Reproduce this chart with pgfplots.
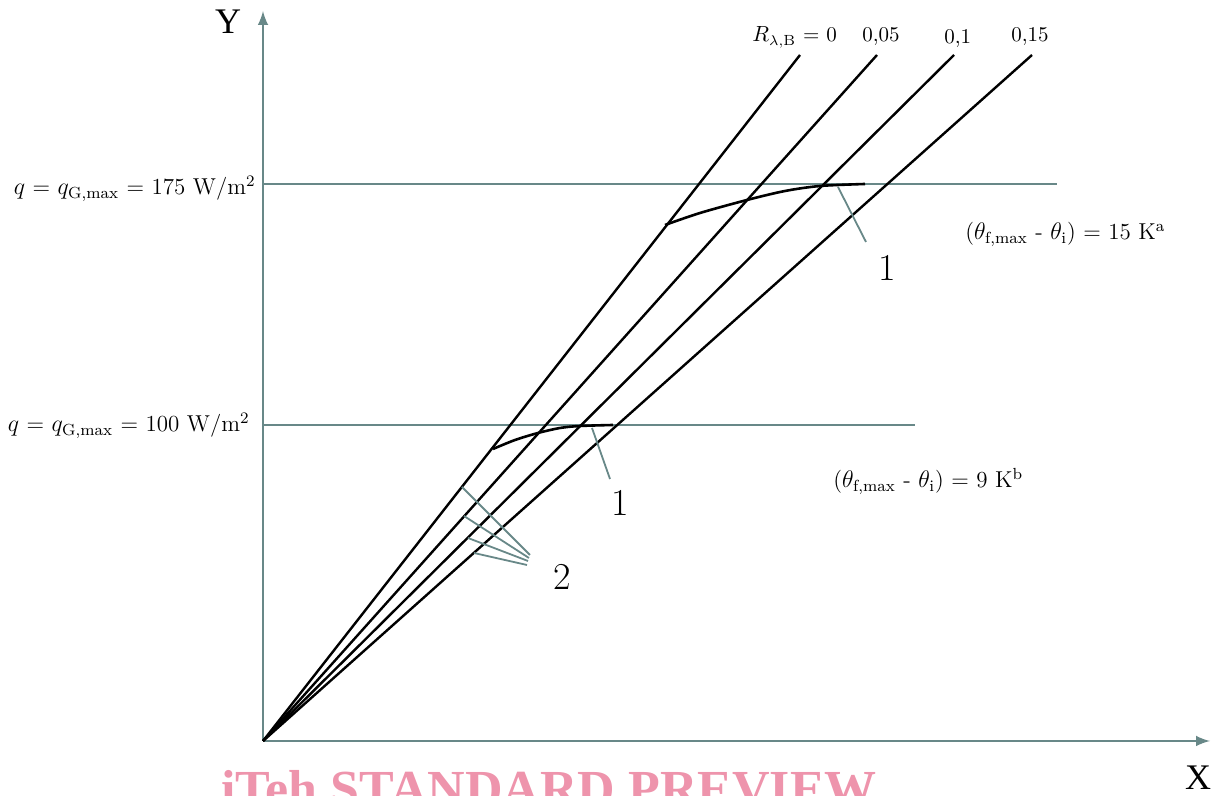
\documentclass[border=0pt]{standalone}
\usepackage{fontspec}
\usepackage{pgfplots}
\pgfplotsset{compat=1.18}
\newfontfamily\tnr{Liberation Serif}
\definecolor{axgray}{RGB}{104,136,136}
\definecolor{wmpink}{RGB}{238,148,172}
\begin{document}
\begin{tikzpicture}
\begin{axis}[
  x=0.5pt, y=0.5pt,
  xmin=-263, xmax=953, ymin=-55, ymax=741,
  hide axis, clip=false,
  every axis plot/.append style={line join=round},
]
% axes and q limits
\addplot[axgray, line width=1.4pt, -latex] coordinates {(0,0) (947,0)};
\addplot[axgray, line width=1.4pt, -latex] coordinates {(0,0) (0,730)};
\addplot[axgray, line width=1.4pt] coordinates {(0,557) (794,557)};
\addplot[axgray, line width=1.4pt] coordinates {(0,316) (652,316)};
% R lines
\addplot[black, line width=1.2pt] coordinates {(0,0) (537,686)};
\addplot[black, line width=1.2pt] coordinates {(0,0) (614,686)};
\addplot[black, line width=1.2pt] coordinates {(0,0) (691,686)};
\addplot[black, line width=1.2pt] coordinates {(0,0) (769,686)};
% curves 1
\addplot[black, line width=1.3pt, smooth] coordinates {(402,516) (437,528) (484,541) (522,550) (557,555) (602,557)};
\addplot[black, line width=1.3pt, smooth] coordinates {(230,292) (252,301) (275,308) (297,313) (317,315) (350,316)};
% leaders
\addplot[axgray, line width=0.9pt] coordinates {(575,554) (603,499)};
\addplot[axgray, line width=0.9pt] coordinates {(329,313) (347,262)};
\addplot[axgray, line width=0.9pt] coordinates {(199,254) (267,186)};
\addplot[axgray, line width=0.9pt] coordinates {(201,225) (266,183)};
\addplot[axgray, line width=0.9pt] coordinates {(205,203) (265,180)};
\addplot[axgray, line width=0.9pt] coordinates {(211,188) (264,176)};
% texts
\node[font=\tnr\fontsize{18}{20}\selectfont] at (axis cs:-35,719) {Y};
\node[font=\tnr\fontsize{18}{20}\selectfont] at (axis cs:935,-37) {X};
\node[font=\fontsize{19}{22}\selectfont] at (axis cs:624,473) {1};
\node[font=\fontsize{19}{22}\selectfont] at (axis cs:357,238) {1};
\node[font=\fontsize{19}{22}\selectfont] at (axis cs:299,164) {2};
\node[anchor=base east, inner sep=0pt, font=\fontsize{11.5}{14}\selectfont] at (axis cs:-7,546) {$q$ = $q_{\mathrm{G,max}}$ = 175 W/m$^2$};
\node[anchor=base east, inner sep=0pt, font=\fontsize{11.5}{14}\selectfont] at (axis cs:-13,309) {$q$ = $q_{\mathrm{G,max}}$ = 100 W/m$^2$};
\node[anchor=base west, inner sep=0pt, font=\fontsize{11.5}{14}\selectfont] at (axis cs:702,501) {($\theta_{\mathrm{f,max}}$ - $\theta_{\mathrm{i}}$) = 15 K$^{\mathrm{a}}$};
\node[anchor=base west, inner sep=0pt, font=\fontsize{11.5}{14}\selectfont] at (axis cs:570,253) {($\theta_{\mathrm{f,max}}$ - $\theta_{\mathrm{i}}$) = 9 K$^{\mathrm{b}}$};
\node[anchor=base west, inner sep=0pt, font=\fontsize{10.5}{13}\selectfont] at (axis cs:489,699) {$R_{\lambda,\mathrm{B}}$ = 0};
\node[anchor=base west, inner sep=0pt, font=\fontsize{10.5}{13}\selectfont] at (axis cs:599,699) {0,05};
\node[anchor=base west, inner sep=0pt, font=\fontsize{10.5}{13}\selectfont] at (axis cs:681,697) {0,1};
\node[anchor=base west, inner sep=0pt, font=\fontsize{10.5}{13}\selectfont] at (axis cs:748,699) {0,15};
\node[anchor=base, inner sep=0pt, text=wmpink, font=\tnr\bfseries\fontsize{26}{30}\selectfont] at (axis cs:286,-66) {iTeh STANDARD PREVIEW};
\coordinate (sw) at (axis cs:-263,-55);
\coordinate (ne) at (axis cs:953,741);
\end{axis}
\pgfresetboundingbox
\path[use as bounding box] (sw) rectangle (ne);
\end{tikzpicture}
\end{document}
